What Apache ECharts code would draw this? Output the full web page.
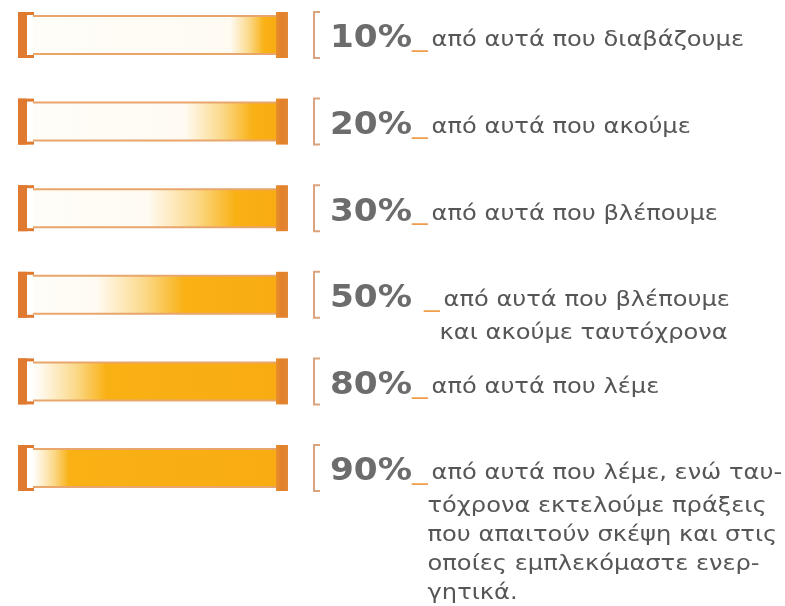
<!DOCTYPE html>
<html><head><meta charset="utf-8">
<script src="https://cdn.jsdelivr.net/npm/echarts/dist/echarts.min.js"></script>
<style>html,body{margin:0;padding:0;background:#fff}#c{width:785px;height:606px}</style>
</head><body><div id="c"></div>
<script>
const categories = ['διαβάζουμε', 'ακούμε', 'βλέπουμε', 'βλέπουμε και ακούμε', 'λέμε', 'λέμε και πράττουμε'];
const percentValues = [10, 20, 30, 50, 80, 90];
const percentLabels = ['10%', '20%', '30%', '50% ', '80%', '90%'];
const descriptionLines = [
  ['από αυτά που διαβάζουμε'],
  ['από αυτά που ακούμε'],
  ['από αυτά που βλέπουμε'],
  ['από αυτά που βλέπουμε', 'και ακούμε ταυτόχρονα'],
  ['από αυτά που λέμε'],
  ['από αυτά που λέμε, ενώ ταυ-', 'τόχρονα εκτελούμε πράξεις', 'που απαιτούν σκέψη και στις', 'οποίες εμπλεκόμαστε ενερ-', 'γητικά.']
];

const FONT = '"DejaVu Sans", sans-serif';
const PCT_FONT = 'bold 32px ' + FONT;
const US_FONT = '24px ' + FONT;
const DESC_FONT = '21px ' + FONT;
const PCT_SX = 1.07, US_SX = 1.3, DESC_SX = 1.15;
const measureCtx = document.createElement('canvas').getContext('2d');
function textWidth(t, font) { measureCtx.font = font; return measureCtx.measureText(t).width; }

const ORANGE = '#f9b114';
const CAP = '#e07a30';
const EDGE = '#e8a66c';

function txt(x, y, text, font, fill, sx) {
  return { type: 'text', x: x, y: y, scaleX: sx, originX: 0, originY: 0,
    style: { x: 0, y: 0, text: text, font: font, fill: fill, align: 'left', verticalAlign: 'middle' } };
}

function renderTube(params, api) {
  const pct = api.value(0);
  const idx = api.value(1);
  const start = api.coord([0, idx]);
  const end = api.coord([100, idx]);
  const x0 = start[0], x1 = end[0], cy = start[1];
  const w = x1 - x0;
  const f = pct / 100;
  const mid = 1 - f - 0.24 * f * (1 - f);
  const fade = Math.min(0.36, 1.4 * Math.min(f, 1 - f));
  const a = Math.max(0, mid - fade / 2);
  const b = Math.min(1, mid + fade / 2);
  const grad = new echarts.graphic.LinearGradient(0, 0, 1, 0, [
    { offset: 0, color: '#fffdf8' },
    { offset: a, color: '#fffbf3' },
    { offset: a + (b - a) * 0.55, color: '#fbd98a' },
    { offset: b, color: ORANGE },
    { offset: 1, color: '#f8ac12' }
  ]);
  const children = [
    { type: 'rect', shape: { x: x0, y: cy - 19, width: w, height: 38 }, style: { fill: grad } },
    { type: 'line', shape: { x1: x0, y1: cy - 19, x2: x1, y2: cy - 19 }, style: { stroke: EDGE, lineWidth: 2 } },
    { type: 'line', shape: { x1: x0, y1: cy + 19, x2: x1, y2: cy + 19 }, style: { stroke: EDGE, lineWidth: 2 } },
    // left bracket cap
    { type: 'rect', shape: { x: x0 - 15, y: cy - 23, width: 9, height: 46 }, style: { fill: CAP } },
    { type: 'rect', shape: { x: x0 - 15, y: cy - 23, width: 16, height: 3 }, style: { fill: CAP } },
    { type: 'rect', shape: { x: x0 - 15, y: cy + 20, width: 16, height: 3 }, style: { fill: CAP } },
    // right cap
    { type: 'rect', shape: { x: x1 - 1, y: cy - 23, width: 12, height: 46 },
      style: { fill: new echarts.graphic.LinearGradient(0, 0, 1, 0, [
        { offset: 0, color: '#e88f2c' }, { offset: 0.5, color: '#e27f2c' }, { offset: 1, color: '#e28834' }]) } },
    // label bracket
    { type: 'polyline', shape: { points: [[x1 + 43, cy - 23], [x1 + 37, cy - 23], [x1 + 37, cy + 23], [x1 + 43, cy + 23]] },
      style: { stroke: '#d9a47e', lineWidth: 2, fill: null } }
  ];
  const label = percentLabels[params.dataIndex];
  const lines = descriptionLines[params.dataIndex];
  const tx = x1 + 53;
  children.push(txt(tx, cy + 4, label, PCT_FONT, '#6c6c6c', PCT_SX));
  const ux = tx + textWidth(label, PCT_FONT) * PCT_SX;
  children.push(txt(ux, cy + 5, '_', US_FONT, '#ef9d4a', US_SX));
  const uend = ux + textWidth('_', US_FONT) * US_SX;
  lines.forEach((ln, k) => {
    const lx = k === 0 ? uend + 4 : uend;
    const ly = cy + 6 + (k === 0 ? 0 : 33 + 29 * (k - 1));
    children.push(txt(lx, ly, ln, DESC_FONT, '#565656', DESC_SX));
  });
  return { type: 'group', children };
}

const chart = echarts.init(document.getElementById('c'), null, { renderer: 'canvas' });
chart.setOption({
  animation: false,
  backgroundColor: '#ffffff',
  grid: { left: 33, right: 508, top: 35, bottom: 138 },
  xAxis: { type: 'value', min: 0, max: 100, show: false },
  yAxis: { type: 'category', data: categories, inverse: true, boundaryGap: false, show: false },
  series: [{
    type: 'custom',
    clip: false,
    silent: true,
    renderItem: renderTube,
    encode: { x: 0, y: 1 },
    data: percentValues.map((v, i) => [v, i])
  }]
});
</script>
</body></html>
